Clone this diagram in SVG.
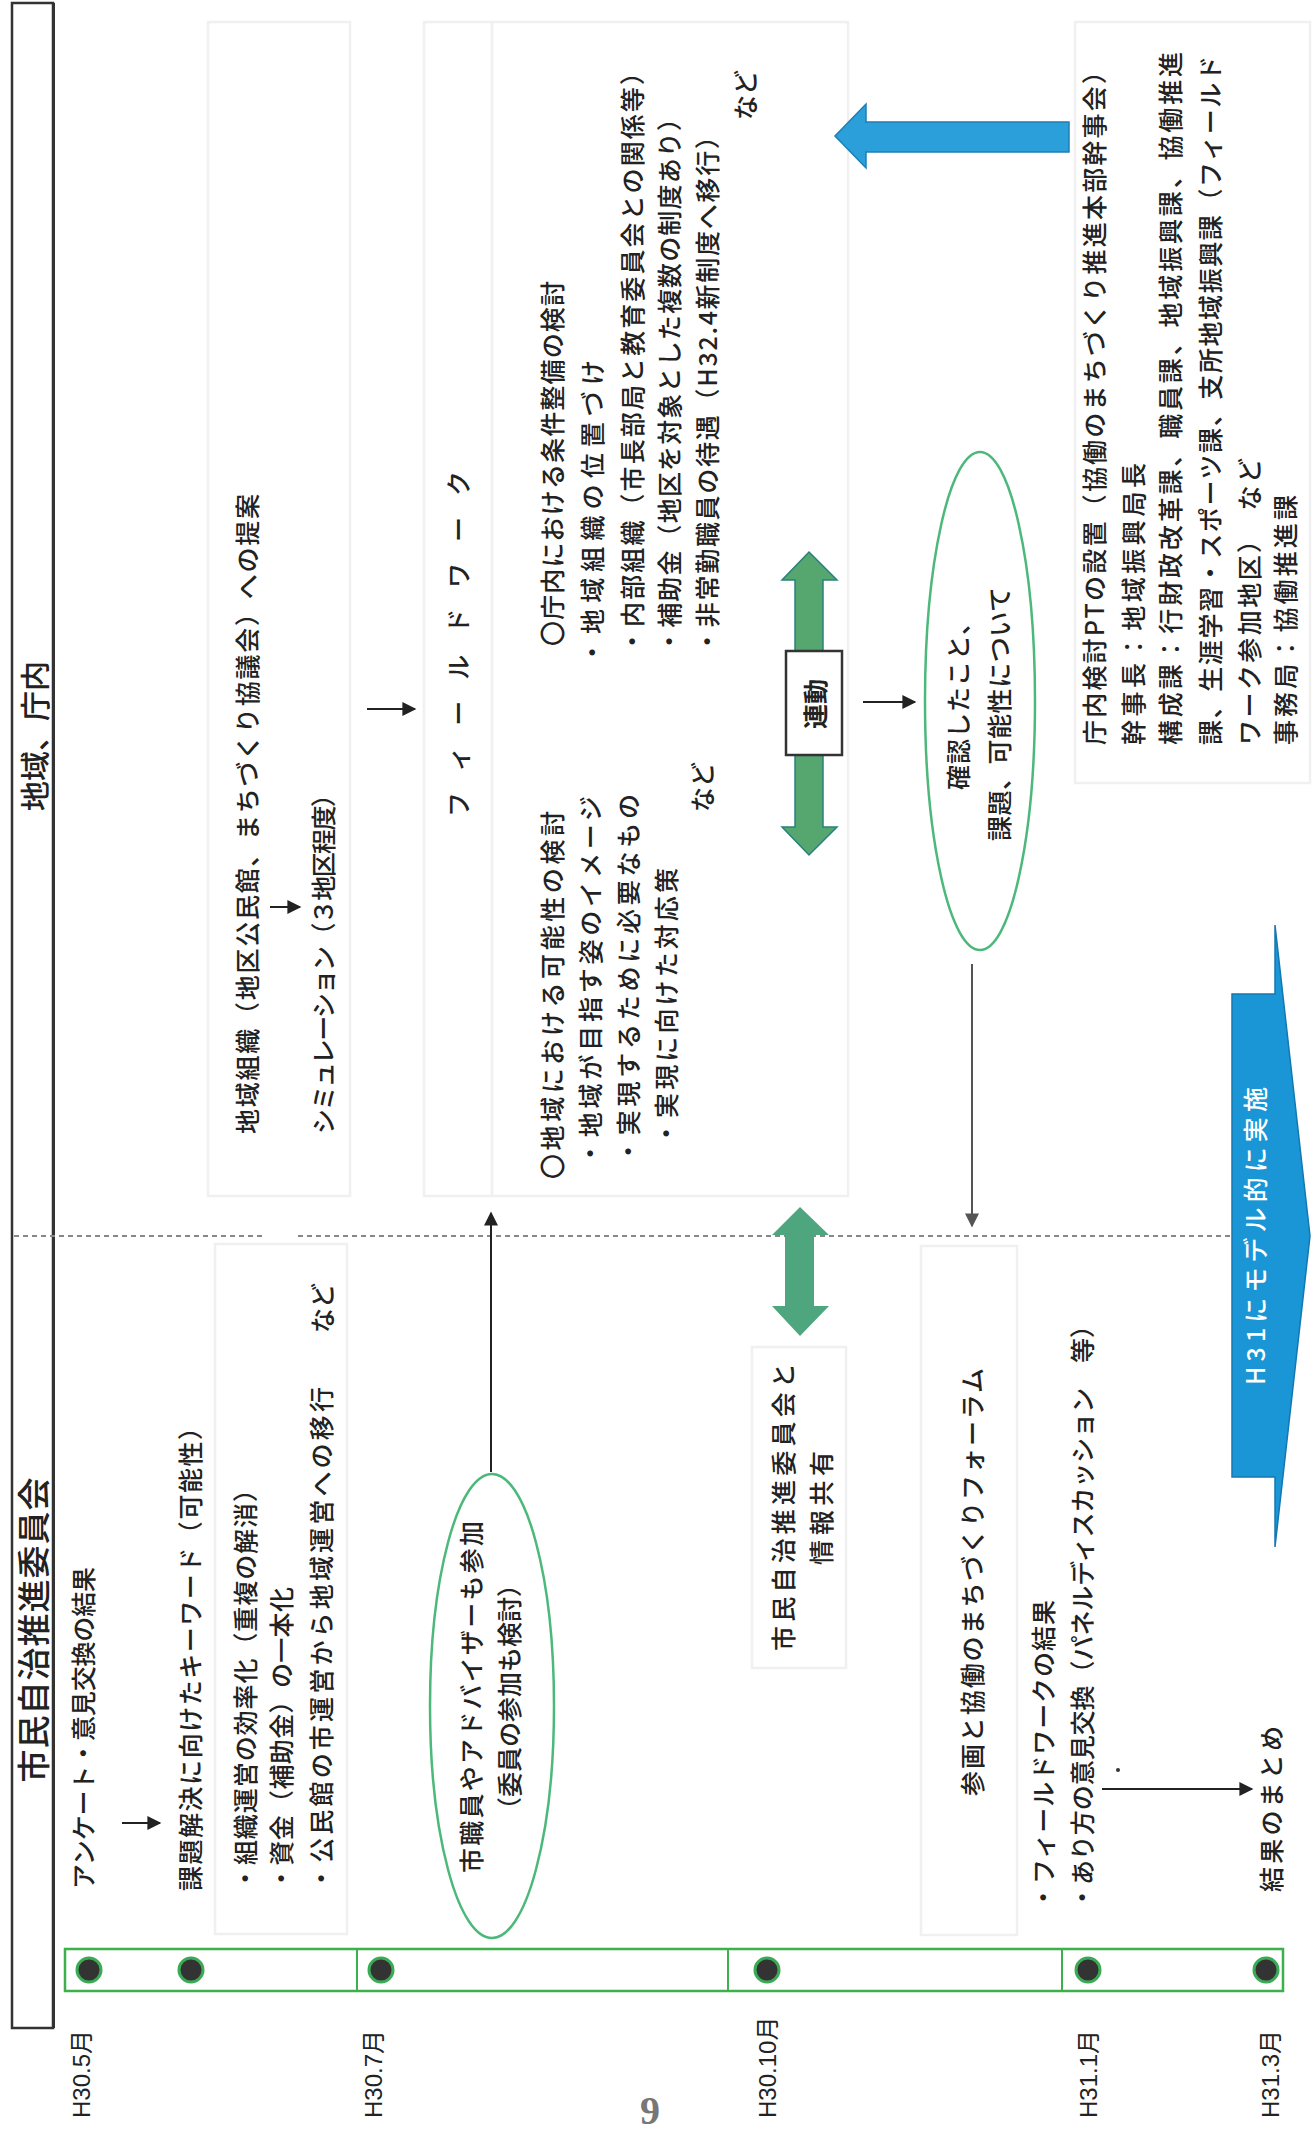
<svg xmlns="http://www.w3.org/2000/svg" width="1314" height="2134" viewBox="0 0 1314 2134">
<defs>
<style>
.t{font-family:"Noto Sans CJK JP","Noto Sans",sans-serif;font-size:25px;font-weight:500;fill:#222;dominant-baseline:central}
.d{font-family:"Liberation Sans","Noto Sans CJK JP",sans-serif;font-size:24px;fill:#222;dominant-baseline:central}
.box{fill:none;stroke:#f0f0f0;stroke-width:2.5}
.ell{fill:none;stroke:#4cb87a;stroke-width:2.5}
.ln{stroke:#222;stroke-width:2;fill:none}
.dot{fill:#333;stroke:#3aaa55;stroke-width:3}
</style>
<marker id="ah" viewBox="0 0 10 10" refX="9" refY="5" markerUnits="userSpaceOnUse" markerWidth="16" markerHeight="14" orient="auto"><path d="M0,0 L10,5 L0,10 z" fill="#222"/></marker>
<marker id="ahg" viewBox="0 0 10 10" refX="9" refY="5" markerUnits="userSpaceOnUse" markerWidth="16" markerHeight="14" orient="auto"><path d="M0,0 L10,5 L0,10 z" fill="#555"/></marker>
</defs>
<rect width="1314" height="2134" fill="#fff"/>

<g id="header">
<rect x="12" y="3" width="41" height="2025" fill="none" stroke="#333" stroke-width="2.5"/>
<line x1="54" y1="3" x2="54" y2="2028" stroke="#333" stroke-width="2"/>
<text class="t" style="font-size:30px" text-anchor="middle" transform="translate(33,736) rotate(-90)">地域、庁内</text>
<text class="t" style="font-size:33px" text-anchor="middle" textLength="305" transform="translate(32,1630) rotate(-90)">市民自治推進委員会</text>
</g>

<g id="boxes">
<rect class="box" x="208" y="22" width="142" height="1174"/>
<rect class="box" x="424" y="22" width="68" height="1174"/>
<rect class="box" x="492" y="22" width="356" height="1174"/>
<rect class="box" x="1075" y="22" width="235" height="761"/>
<rect class="box" x="215" y="1244" width="132" height="690"/>
<rect class="box" x="752" y="1347" width="94" height="321"/>
<rect class="box" x="921" y="1246" width="96" height="689"/>
</g>

<g id="divider">
<line x1="14" y1="1236" x2="263" y2="1236" stroke="#888" stroke-width="2" stroke-dasharray="5 4"/>
<line x1="298" y1="1236" x2="1292" y2="1236" stroke="#888" stroke-width="2" stroke-dasharray="5 4"/>
</g>

<g id="timeline">
<rect x="65" y="1949" width="1218" height="42" fill="none" stroke="#3cb04a" stroke-width="2.5"/>
<line x1="357" y1="1949" x2="357" y2="1991" stroke="#3cb04a" stroke-width="2"/>
<line x1="728" y1="1949" x2="728" y2="1991" stroke="#3cb04a" stroke-width="2"/>
<line x1="1062" y1="1949" x2="1062" y2="1991" stroke="#3cb04a" stroke-width="2"/>
<circle class="dot" cx="89" cy="1970" r="12"/>
<circle class="dot" cx="191" cy="1970" r="12"/>
<circle class="dot" cx="381" cy="1970" r="12"/>
<circle class="dot" cx="767" cy="1970" r="12"/>
<circle class="dot" cx="1088" cy="1970" r="12"/>
<circle class="dot" cx="1266" cy="1970" r="12"/>
<text class="d" transform="translate(81,2118) rotate(-90)">H30.5月</text>
<text class="d" transform="translate(373,2118) rotate(-90)">H30.7月</text>
<text class="d" transform="translate(767,2118) rotate(-90)">H30.10月</text>
<text class="d" transform="translate(1088,2118) rotate(-90)">H31.1月</text>
<text class="d" transform="translate(1270,2118) rotate(-90)">H31.3月</text>
</g>

<g id="page-number">
<text x="650" y="2124" text-anchor="middle" font-family="Liberation Serif, serif" font-weight="bold" font-size="40" fill="#777">9</text>
</g>

<g id="n-survey">
<text class="t" textLength="322" transform="translate(82,1889) rotate(-90)">アンケート・意見交換の結果</text>
</g>
<g id="n-keyword">
<text class="t" textLength="476" transform="translate(189,1891) rotate(-90)">課題解決に向けたキーワード（可能性）</text>
</g>
<g id="n-keyword-list">
<text class="t" textLength="414" transform="translate(244,1891) rotate(-90)">・組織運営の効率化（重複の解消）</text>
<text class="t" textLength="304" transform="translate(280,1891) rotate(-90)">・資金（補助金）の一本化</text>
<text class="t" textLength="504" transform="translate(320,1891) rotate(-90)">・公民館の市運営から地域運営への移行</text>
<text class="t" transform="translate(321,1333) rotate(-90)">など</text>
</g>

<g id="n-staff-ellipse">
<ellipse class="ell" cx="492" cy="1706" rx="62" ry="232"/>
<text class="t" text-anchor="middle" textLength="352" transform="translate(470,1697) rotate(-90)">市職員やアドバイザーも参加</text>
<text class="t" text-anchor="middle" textLength="250" transform="translate(508,1697) rotate(-90)">（委員の参加も検討）</text>
</g>

<g id="n-proposal">
<text class="t" textLength="640" transform="translate(246,1134) rotate(-90)">地域組織（地区公民館、まちづくり協議会）への提案</text>
<text class="t" textLength="352" transform="translate(322,1134) rotate(-90)">シミュレーション（３地区程度）</text>
</g>

<g id="n-fieldwork">
<text class="t" textLength="346" transform="translate(457,817) rotate(-90)">フィールドワーク</text>
</g>

<g id="n-local">
<text class="t" textLength="368" transform="translate(551,1179) rotate(-90)">〇地域における可能性の検討</text>
<text class="t" textLength="370" transform="translate(589,1166) rotate(-90)">・地域が目指す姿のイメージ</text>
<text class="t" textLength="370" transform="translate(627,1164) rotate(-90)">・実現するために必要なもの</text>
<text class="t" textLength="278" transform="translate(665,1146) rotate(-90)">・実現に向けた対応策</text>
<text class="t" transform="translate(701,812) rotate(-90)">など</text>
</g>

<g id="n-internal">
<text class="t" textLength="365" transform="translate(551,646) rotate(-90)">〇庁内における条件整備の検討</text>
<text class="t" textLength="305" transform="translate(591,665) rotate(-90)">・地域組織の位置づけ</text>
<text class="t" textLength="594" transform="translate(631,654) rotate(-90)">・内部組織（市長部局と教育委員会との関係等）</text>
<text class="t" textLength="548" transform="translate(668,654) rotate(-90)">・補助金（地区を対象とした複数の制度あり）</text>
<text class="t" textLength="530" transform="translate(706,654) rotate(-90)">・非常勤職員の待遇（H32.4新制度へ移行）</text>
<text class="t" transform="translate(744,120) rotate(-90)">など</text>
</g>

<g id="n-link">
<polygon points="809,552 837,580 823,580 823,827 837,827 809,855 782,827 795,827 795,580 782,580" fill="#55a66f" stroke="#2a8080" stroke-width="1.5"/>
<rect x="786" y="651" width="56" height="104" fill="#fff" stroke="#333" stroke-width="2.5"/>
<text class="t" style="font-weight:bold;font-size:25px" text-anchor="middle" transform="translate(814,704) rotate(-90)">連動</text>
</g>

<g id="n-confirm-ellipse">
<ellipse class="ell" cx="980" cy="701" rx="55" ry="249"/>
<text class="t" textLength="180" transform="translate(957,790) rotate(-90)">確認したこと、</text>
<text class="t" textLength="254" transform="translate(998,841) rotate(-90)">課題、可能性について</text>
</g>

<g id="n-pt">
<text class="t" textLength="686" transform="translate(1093,745) rotate(-90)">庁内検討PTの設置（協働のまちづくり推進本部幹事会）</text>
<text class="t" textLength="282" transform="translate(1132,745) rotate(-90)">幹事長：地域振興局長</text>
<text class="t" textLength="693" transform="translate(1169,745) rotate(-90)">構成課：行財政改革課、職員課、地域振興課、協働推進</text>
<text class="t" textLength="689" transform="translate(1209,745) rotate(-90)">課、生涯学習・スポーツ課、支所地域振興課（フィールド</text>
<text class="t" textLength="287" transform="translate(1248,745) rotate(-90)">ワーク参加地区）　など</text>
<text class="t" textLength="250" transform="translate(1284,745) rotate(-90)">事務局：協働推進課</text>
</g>

<g id="n-pt-arrow">
<polygon points="1069,122 866,122 866,104 835,136 866,168 866,152 1069,152" fill="#2b9fd9" stroke="#1c7fb5" stroke-width="1.5"/>
</g>

<g id="n-share">
<polygon points="800,1207 829,1235 814,1235 814,1306 829,1306 800,1336 772,1306 785,1306 785,1235 772,1235" fill="#4ea67f"/>
<text class="t" textLength="288" transform="translate(782,1651) rotate(-90)">市民自治推進委員会と</text>
<text class="t" textLength="114" transform="translate(820,1565) rotate(-90)">情報共有</text>
</g>

<g id="n-forum">
<text class="t" textLength="428" transform="translate(971,1796) rotate(-90)">参画と協働のまちづくりフォーラム</text>
<text class="t" textLength="310" transform="translate(1042,1910) rotate(-90)">・フィールドワークの結果</text>
<text class="t" textLength="597" transform="translate(1081,1910) rotate(-90)">・あり方の意見交換（パネルディスカッション　等）</text>
<circle cx="1118" cy="1770" r="2" fill="#333"/>
</g>

<g id="n-summary">
<text class="t" textLength="166" transform="translate(1270,1892) rotate(-90)">結果のまとめ</text>
</g>

<g id="n-model">
<polygon points="1232,994 1275,994 1275,925 1310,1236 1275,1547 1275,1477 1232,1477" fill="#1a95d5" stroke="#1478b0" stroke-width="1.5"/>
<text class="t" style="fill:#fff" text-anchor="middle" textLength="298" transform="translate(1254,1236) rotate(-90)">H31にモデル的に実施</text>
</g>

<g id="connectors">
<line class="ln" x1="122" y1="1823" x2="160" y2="1823" marker-end="url(#ah)"/>
<line class="ln" x1="270" y1="907" x2="300" y2="907" marker-end="url(#ah)"/>
<line class="ln" x1="367" y1="709" x2="415" y2="709" marker-end="url(#ah)"/>
<line class="ln" x1="491" y1="1472" x2="491" y2="1213" marker-end="url(#ah)"/>
<line class="ln" x1="863" y1="702" x2="915" y2="702" marker-end="url(#ah)"/>
<line x1="972" y1="964" x2="972" y2="1226" stroke="#555" stroke-width="2" marker-end="url(#ahg)"/>
<line class="ln" x1="1102" y1="1789" x2="1252" y2="1789" marker-end="url(#ah)"/>
</g>
</svg>
